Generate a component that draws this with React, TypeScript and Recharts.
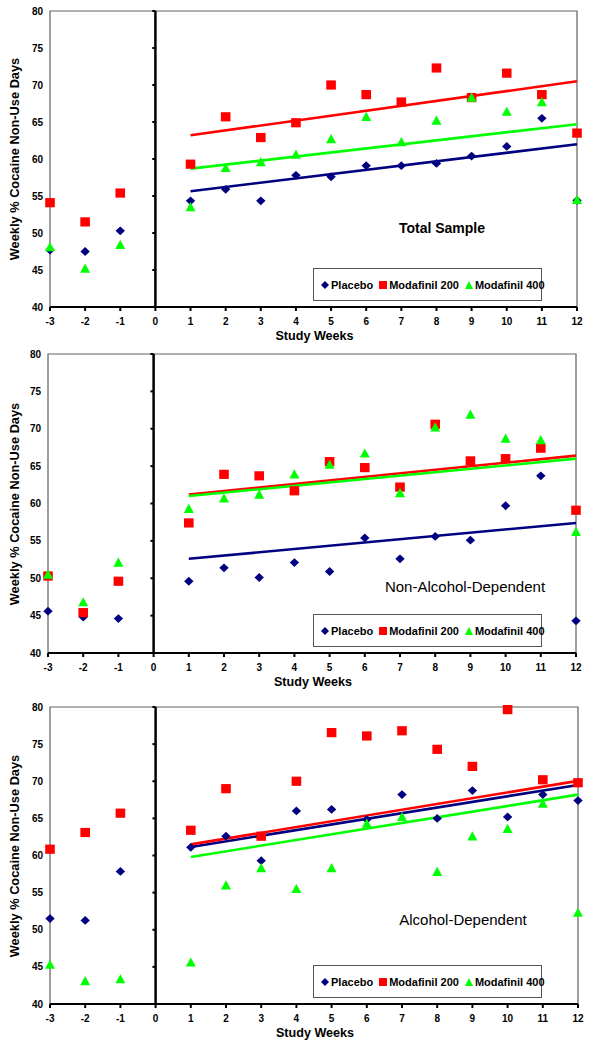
import React from 'react';
import { ScatterChart, Scatter, XAxis, YAxis, ReferenceLine, ReferenceArea } from 'recharts';

const FONT = 'Arial, "Liberation Sans", sans-serif';

const weeks = [-3, -2, -1, 1, 2, 3, 4, 5, 6, 7, 8, 9, 10, 11, 12];
const xTicks = [-3, -2, -1, 0, 1, 2, 3, 4, 5, 6, 7, 8, 9, 10, 11, 12];
const yTicks = [40, 45, 50, 55, 60, 65, 70, 75, 80];
const trendWeeks = [1, 12];
const seriesNames = ['Placebo', 'Modafinil 200', 'Modafinil 400'];
const seriesColors = ['#000080', '#ff0000', '#00ff00'];

// Total Sample
const totalPlacebo = [47.7, 47.5, 50.3, 54.35, 55.9, 54.35, 57.8, 57.6, 59.1, 59.1, 59.4, 60.4, 61.7, 65.5, 54.4];
const totalMod200 = [54.1, 51.5, 55.4, 59.3, 65.7, 62.9, 64.9, 70.0, 68.7, 67.7, 72.3, 68.3, 71.6, 68.7, 63.5];
const totalMod400 = [48.1, 45.2, 48.4, 53.5, 58.8, 59.6, 60.6, 62.7, 65.7, 62.3, 65.2, 68.3, 66.4, 67.7, 54.5];
const totalTrendStart = [55.65, 63.2, 58.7];
const totalTrendEnd = [62.0, 70.5, 64.7];

// Non-Alcohol-Dependent
const nonAlcPlacebo = [45.6, 44.8, 44.6, 49.6, 51.4, 50.1, 52.1, 50.9, 55.4, 52.6, 55.6, 55.1, 59.7, 63.7, 44.3];
const nonAlcMod200 = [50.3, 45.4, 49.6, 57.4, 63.9, 63.7, 61.7, 65.6, 64.8, 62.2, 70.6, 65.7, 66.0, 67.4, 59.1];
const nonAlcMod400 = [50.5, 46.8, 52.1, 59.3, 60.7, 61.2, 63.9, 65.2, 66.7, 61.4, 70.2, 71.9, 68.7, 68.5, 56.2];
const nonAlcTrendStart = [52.6, 61.2, 61.0];
const nonAlcTrendEnd = [57.4, 66.4, 66.0];

// Alcohol-Dependent
const alcPlacebo = [51.5, 51.25, 57.85, 61.1, 62.6, 59.3, 66.0, 66.2, 64.85, 68.2, 65.0, 68.75, 65.2, 68.2, 67.4];
const alcMod200 = [60.85, 63.1, 65.7, 63.4, 69.0, 62.6, 70.0, 76.55, 76.1, 76.8, 74.3, 72.0, 79.65, 70.2, 69.8];
const alcMod400 = [45.3, 43.1, 43.35, 45.6, 56.0, 58.3, 55.5, 58.3, 64.3, 65.2, 57.8, 62.6, 63.6, 67.0, 52.3];
const alcTrendStart = [61.15, 61.5, 59.8];
const alcTrendEnd = [69.5, 70.05, 68.2];

const toPoints = (values: number[]) => weeks.map((w, i) => ({ x: w, y: values[i] }));

const DiamondShape = (p: any) => (
  <polygon
    points={`${p.cx},${p.cy - 4.4} ${p.cx + 4.7},${p.cy} ${p.cx},${p.cy + 4.4} ${p.cx - 4.7},${p.cy}`}
    fill={seriesColors[0]}
  />
);
const SquareShape = (p: any) => (
  <rect x={p.cx - 4.8} y={p.cy - 4.6} width={9.6} height={9.2} fill={seriesColors[1]} />
);
const TriangleShape = (p: any) => (
  <polygon
    points={`${p.cx},${p.cy - 5} ${p.cx + 5},${p.cy + 4.2} ${p.cx - 5},${p.cy + 4.2}`}
    fill={seriesColors[2]}
  />
);
const shapes = [DiamondShape, SquareShape, TriangleShape];

const LegendMarker = ({ index }: { index: number }) => (
  <svg width={8} height={8} style={{ display: 'block' }}>
    {index === 0 && <polygon points="4,0 8,4 4,8 0,4" fill={seriesColors[0]} />}
    {index === 1 && <rect x={0} y={0} width={8} height={8} fill={seriesColors[1]} />}
    {index === 2 && <polygon points="4,0 8,8 0,8" fill={seriesColors[2]} />}
  </svg>
);

interface PanelProps {
  top: number;
  plotLeft: number;
  plotRight: number;
  plotHeight: number;
  series: number[][];
  trendStart: number[];
  trendEnd: number[];
  title: string;
  titleX: number;
  titleY: number;
  titleBold: boolean;
  titleSize: number;
}

const Panel: React.FC<PanelProps> = ({
  top, plotLeft, plotRight, plotHeight, series, trendStart, trendEnd,
  title, titleX, titleY, titleBold, titleSize,
}) => {
  const marginTop = 11;
  const axisHeight = 22;
  const height = marginTop + plotHeight + axisHeight + 14;
  const plotBottom = marginTop + plotHeight;
  const legendTop = plotBottom - 6 - 33;

  return (
    <div style={{ position: 'absolute', left: 0, top, width: 594, height }}>
      <ScatterChart
        width={594}
        height={height}
        margin={{ top: marginTop, right: 594 - plotRight, bottom: 14, left: 0 }}
      >
        <ReferenceArea x1={-3} x2={12} y1={40} y2={80} fill="none" stroke="#606060" strokeWidth={1.2} />
        <XAxis
          type="number"
          dataKey="x"
          domain={[-3, 12]}
          ticks={xTicks}
          interval={0}
          height={axisHeight}
          axisLine={{ stroke: '#000', strokeWidth: 2 }}
          tickLine={{ stroke: '#000', strokeWidth: 2 }}
          tickSize={4}
          tickMargin={7}
          tick={{ fontSize: 10, fontWeight: 'bold', fill: '#000', fontFamily: FONT }}
        />
        <YAxis
          type="number"
          dataKey="y"
          domain={[40, 80]}
          ticks={yTicks}
          interval={0}
          width={plotLeft}
          axisLine={false}
          tickLine={false}
          tickSize={5}
          tickMargin={2}
          tick={{ fontSize: 10, fontWeight: 'bold', fill: '#000', fontFamily: FONT }}
        />
        <ReferenceLine x={0} stroke="#000" strokeWidth={2.5} />
        {yTicks.map((t) => (
          <ReferenceLine
            key={'t' + t}
            segment={[{ x: -0.09, y: t }, { x: 0, y: t }]}
            stroke="#000"
            strokeWidth={2}
          />
        ))}
        {trendStart.map((s, i) => (
          <ReferenceLine
            key={'trend' + i}
            segment={[{ x: trendWeeks[0], y: s }, { x: trendWeeks[1], y: trendEnd[i] }]}
            stroke={seriesColors[i]}
            strokeWidth={2.6}
          />
        ))}
        {series.map((values, i) => (
          <Scatter
            key={seriesNames[i]}
            name={seriesNames[i]}
            data={toPoints(values)}
            fill={seriesColors[i]}
            shape={shapes[i]}
            isAnimationActive={false}
          />
        ))}
      </ScatterChart>

      {/* y axis title */}
      <div
        style={{
          position: 'absolute',
          left: 15,
          top: marginTop + plotHeight / 2,
          transform: 'translate(-50%, -50%) rotate(-90deg)',
          whiteSpace: 'nowrap',
          fontFamily: FONT,
          fontWeight: 'bold',
          fontSize: 12.8,
          lineHeight: 1,
        }}
      >
        Weekly % Cocaine Non-Use Days
      </div>

      {/* x axis title */}
      <div
        style={{
          position: 'absolute',
          left: (plotLeft + plotRight) / 2 + 1,
          top: plotBottom + 29,
          transform: 'translate(-50%, -50%)',
          whiteSpace: 'nowrap',
          fontFamily: FONT,
          fontWeight: 'bold',
          fontSize: 12.6,
          lineHeight: 1,
        }}
      >
        Study Weeks
      </div>

      {/* panel title */}
      <div
        style={{
          position: 'absolute',
          left: titleX,
          top: titleY,
          transform: 'translate(-50%, -50%)',
          whiteSpace: 'nowrap',
          fontFamily: FONT,
          fontWeight: titleBold ? 'bold' : 'normal',
          fontSize: titleSize,
          lineHeight: 1,
        }}
      >
        {title}
      </div>

      {/* legend */}
      <div
        style={{
          position: 'absolute',
          left: 313,
          top: legendTop,
          width: 229,
          height: 33,
          boxSizing: 'border-box',
          border: '1px solid #555',
          background: '#fff',
          display: 'flex',
          alignItems: 'center',
          paddingLeft: 7,
          fontFamily: FONT,
          fontWeight: 'bold',
          fontSize: 11,
          whiteSpace: 'nowrap',
        }}
      >
        {seriesNames.map((name, i) => (
          <div key={name} style={{ display: 'flex', alignItems: 'center', marginRight: i < 2 ? 6 : 0 }}>
            <LegendMarker index={i} />
            <span style={{ marginLeft: 2 }}>{name}</span>
          </div>
        ))}
      </div>
    </div>
  );
};

const App: React.FC = () => {
  return (
    <div style={{ position: 'absolute', left: 0, top: 0, width: 594, height: 1050, background: '#fff' }}>
      <Panel
        top={0}
        plotLeft={50}
        plotRight={577}
        plotHeight={296}
        series={[totalPlacebo, totalMod200, totalMod400]}
        trendStart={totalTrendStart}
        trendEnd={totalTrendEnd}
        title="Total Sample"
        titleX={442}
        titleY={228}
        titleBold={true}
        titleSize={14}
      />
      <Panel
        top={343}
        plotLeft={48}
        plotRight={576}
        plotHeight={299}
        series={[nonAlcPlacebo, nonAlcMod200, nonAlcMod400]}
        trendStart={nonAlcTrendStart}
        trendEnd={nonAlcTrendEnd}
        title="Non-Alcohol-Dependent"
        titleX={465}
        titleY={586 - 343}
        titleBold={false}
        titleSize={15}
      />
      <Panel
        top={696}
        plotLeft={50}
        plotRight={578}
        plotHeight={297}
        series={[alcPlacebo, alcMod200, alcMod400]}
        trendStart={alcTrendStart}
        trendEnd={alcTrendEnd}
        title="Alcohol-Dependent"
        titleX={463}
        titleY={919 - 696}
        titleBold={false}
        titleSize={15}
      />
    </div>
  );
};

export default App;
